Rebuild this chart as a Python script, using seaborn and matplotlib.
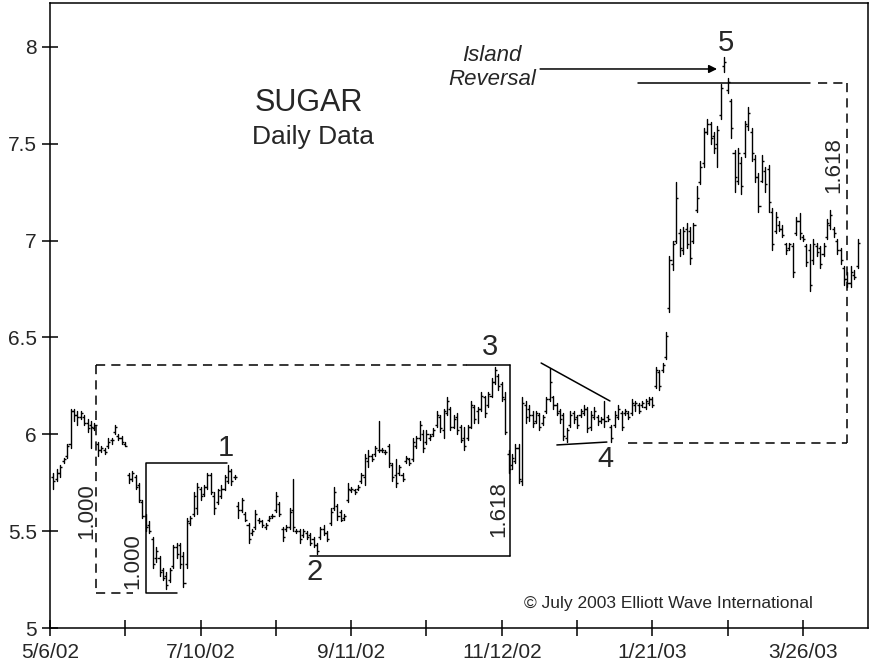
'''
Sugar daily OHLC bars with Elliott wave annotations
'''
import matplotlib
matplotlib.use('Agg')
import numpy as np
import pandas as pd
import seaborn as sns
import matplotlib.pyplot as plt

# daily bars, one entry per trading day (day 1 = first bar after 5/6/02)
high = [5.80, 5.82, 5.84, 5.88, 5.95, 6.13, 6.13, 6.12, 6.12, 6.10,
        6.08, 6.07, 6.06, 5.96, 5.94, 5.93, 5.98, 5.98, 6.05, 6.00,
        5.99, 5.96, 5.80, 5.81, 5.79, 5.75, 5.66, 5.59, 5.55, 5.47,
        5.42, 5.37, 5.31, 5.29, 5.31, 5.43, 5.44, 5.44, 5.39, 5.57,
        5.58, 5.70, 5.75, 5.73, 5.74, 5.80, 5.80, 5.70, 5.72, 5.74,
        5.79, 5.84, 5.82, 5.79, 5.65, 5.67, 5.60, 5.54, 5.51, 5.61,
        5.57, 5.56, 5.54, 5.58, 5.59, 5.70, 5.65, 5.52, 5.53, 5.62,
        5.77, 5.51, 5.51, 5.51, 5.50, 5.49, 5.47, 5.44, 5.52, 5.53,
        5.50, 5.62, 5.73, 5.64, 5.61, 5.59, 5.75, 5.73, 5.72, 5.74,
        5.80, 5.90, 5.92, 5.90, 5.94, 6.07, 5.93, 5.92, 5.95, 5.85,
        5.87, 5.84, 5.80, 5.89, 5.88, 5.98, 5.99, 6.07, 6.02, 6.02,
        6.00, 6.03, 6.12, 6.10, 6.13, 6.19, 6.14, 6.10, 6.11, 6.05,
        6.04, 6.05, 6.17, 6.15, 6.14, 6.22, 6.20, 6.22, 6.29, 6.35,
        6.31, 6.27, 6.22, 5.92, 5.90, 5.95, 5.95, 6.19, 6.17, 6.15,
        6.12, 6.12, 6.11, 6.10, 6.19, 6.34, 6.20, 6.16, 6.13, 6.11,
        6.03, 6.12, 6.12, 6.10, 6.13, 6.15, 6.14, 6.12, 6.14, 6.10,
        6.09, 6.17, 6.10, 6.05, 6.12, 6.15, 6.12, 6.13, 6.12, 6.18,
        6.17, 6.16, 6.17, 6.18, 6.19, 6.19, 6.35, 6.33, 6.37, 6.53,
        6.92, 7.00, 7.30, 7.06, 7.07, 7.09, 7.07, 7.09, 7.28, 7.41,
        7.58, 7.63, 7.61, 7.56, 7.59, 7.81, 7.95, 7.84, 7.73, 7.47,
        7.48, 7.43, 7.62, 7.69, 7.58, 7.44, 7.35, 7.44, 7.38, 7.39,
        7.17, 7.15, 7.10, 7.08, 6.99, 6.99, 6.99, 7.12, 7.14, 7.03,
        6.98, 6.98, 7.01, 6.99, 6.97, 6.99, 7.11, 7.16, 7.07, 7.01,
        6.96, 6.87, 6.84, 6.87, 6.85, 7.01]
low = [5.72, 5.76, 5.78, 5.85, 5.88, 5.93, 6.07, 6.05, 6.08, 6.05,
       6.01, 5.93, 6.02, 5.89, 5.91, 5.90, 5.93, 5.95, 6.00, 5.97,
       5.95, 5.94, 5.75, 5.76, 5.72, 5.65, 5.57, 5.50, 5.49, 5.31,
       5.34, 5.27, 5.25, 5.20, 5.24, 5.31, 5.36, 5.31, 5.21, 5.31,
       5.53, 5.58, 5.59, 5.66, 5.68, 5.72, 5.69, 5.59, 5.64, 5.67,
       5.71, 5.75, 5.74, 5.77, 5.57, 5.60, 5.55, 5.44, 5.48, 5.51,
       5.54, 5.52, 5.51, 5.55, 5.57, 5.60, 5.58, 5.45, 5.50, 5.51,
       5.50, 5.49, 5.44, 5.47, 5.46, 5.43, 5.42, 5.38, 5.46, 5.48,
       5.45, 5.53, 5.61, 5.56, 5.55, 5.56, 5.65, 5.70, 5.69, 5.71,
       5.75, 5.74, 5.83, 5.86, 5.89, 5.91, 5.91, 5.90, 5.83, 5.76,
       5.73, 5.79, 5.76, 5.85, 5.84, 5.86, 5.93, 5.97, 5.91, 5.95,
       5.97, 5.99, 6.04, 6.01, 5.98, 6.10, 6.02, 6.03, 6.00, 5.96,
       5.92, 5.97, 6.03, 6.06, 6.06, 6.12, 6.09, 6.14, 6.19, 6.26,
       6.23, 6.17, 6.00, 5.80, 5.82, 5.85, 5.75, 5.74, 6.06, 6.07,
       6.04, 6.06, 6.02, 6.05, 6.11, 6.17, 6.13, 6.10, 6.06, 5.97,
       5.96, 6.04, 6.06, 6.03, 6.09, 6.10, 6.01, 6.02, 6.08, 6.05,
       6.06, 6.04, 6.07, 5.96, 6.04, 6.08, 6.02, 6.10, 6.08, 6.10,
       6.12, 6.11, 6.14, 6.13, 6.15, 6.14, 6.24, 6.23, 6.32, 6.39,
       6.63, 6.85, 6.99, 6.92, 6.93, 6.96, 6.88, 6.99, 7.15, 7.29,
       7.38, 7.55, 7.50, 7.45, 7.38, 7.63, 7.87, 7.76, 7.53, 7.25,
       7.29, 7.24, 7.43, 7.57, 7.41, 7.30, 7.15, 7.30, 7.25, 7.15,
       6.95, 7.04, 7.05, 7.02, 6.93, 6.95, 6.81, 7.03, 7.01, 7.00,
       6.87, 6.74, 6.88, 6.92, 6.86, 6.92, 7.01, 7.06, 7.02, 6.93,
       6.88, 6.77, 6.76, 6.76, 6.80, 6.86]
opens = [5.78, 5.77, 5.80, 5.86, 5.89, 5.95, 6.12, 6.10, 6.09, 6.09,
         6.06, 6.05, 6.03, 5.95, 5.92, 5.92, 5.94, 5.97, 6.01, 5.99,
         5.98, 5.95, 5.79, 5.77, 5.78, 5.74, 5.65, 5.58, 5.53, 5.46,
         5.36, 5.36, 5.30, 5.27, 5.25, 5.32, 5.42, 5.43, 5.37, 5.33,
         5.54, 5.59, 5.62, 5.72, 5.69, 5.73, 5.79, 5.68, 5.65, 5.68,
         5.72, 5.76, 5.81, 5.78, 5.63, 5.61, 5.59, 5.53, 5.49, 5.52,
         5.56, 5.55, 5.52, 5.56, 5.58, 5.61, 5.64, 5.51, 5.51, 5.52,
         5.61, 5.50, 5.50, 5.48, 5.49, 5.48, 5.46, 5.43, 5.47, 5.51,
         5.49, 5.54, 5.62, 5.63, 5.60, 5.57, 5.66, 5.71, 5.71, 5.72,
         5.76, 5.78, 5.86, 5.89, 5.90, 5.92, 5.92, 5.91, 5.94, 5.84,
         5.79, 5.80, 5.79, 5.86, 5.87, 5.87, 5.94, 5.98, 6.00, 5.96,
         5.98, 6.00, 6.05, 6.09, 6.02, 6.11, 6.13, 6.04, 6.09, 6.04,
         5.98, 5.98, 6.04, 6.14, 6.12, 6.13, 6.19, 6.15, 6.20, 6.27,
         6.30, 6.26, 6.18, 5.90, 5.84, 5.86, 5.93, 5.76, 6.15, 6.13,
         6.10, 6.07, 6.10, 6.06, 6.12, 6.18, 6.19, 6.15, 6.12, 6.10,
         5.98, 6.05, 6.11, 6.09, 6.10, 6.11, 6.13, 6.04, 6.09, 6.09,
         6.07, 6.08, 6.09, 6.04, 6.05, 6.09, 6.11, 6.11, 6.11, 6.11,
         6.15, 6.15, 6.15, 6.14, 6.16, 6.18, 6.25, 6.32, 6.33, 6.40,
         6.65, 6.88, 7.00, 7.04, 6.95, 7.06, 7.05, 7.00, 7.16, 7.30,
         7.40, 7.56, 7.60, 7.54, 7.50, 7.65, 7.90, 7.78, 7.72, 7.45,
         7.31, 7.40, 7.45, 7.59, 7.56, 7.42, 7.33, 7.31, 7.36, 7.37,
         7.15, 7.05, 7.08, 7.06, 6.98, 6.96, 6.97, 7.04, 7.10, 7.02,
         6.97, 6.95, 6.90, 6.97, 6.96, 6.93, 7.02, 7.08, 7.06, 7.00,
         6.95, 6.86, 6.80, 6.78, 6.82, 6.87]
close = [5.76, 5.80, 5.83, 5.87, 5.94, 6.12, 6.10, 6.09, 6.11, 6.06,
         6.03, 6.04, 6.05, 5.92, 5.93, 5.91, 5.96, 5.97, 6.04, 5.98,
         5.96, 5.94, 5.77, 5.80, 5.73, 5.66, 5.58, 5.52, 5.50, 5.33,
         5.40, 5.29, 5.26, 5.22, 5.30, 5.42, 5.38, 5.33, 5.23, 5.55,
         5.57, 5.68, 5.73, 5.68, 5.73, 5.79, 5.70, 5.62, 5.71, 5.72,
         5.78, 5.81, 5.76, 5.78, 5.61, 5.66, 5.56, 5.46, 5.50, 5.59,
         5.55, 5.53, 5.53, 5.57, 5.58, 5.68, 5.59, 5.47, 5.52, 5.60,
         5.52, 5.50, 5.46, 5.50, 5.47, 5.44, 5.43, 5.40, 5.51, 5.49,
         5.46, 5.60, 5.70, 5.58, 5.56, 5.58, 5.72, 5.72, 5.70, 5.73,
         5.79, 5.88, 5.89, 5.87, 5.93, 5.92, 5.92, 5.91, 5.85, 5.78,
         5.75, 5.83, 5.77, 5.88, 5.85, 5.96, 5.98, 6.05, 5.93, 6.00,
         5.99, 6.02, 6.10, 6.03, 6.12, 6.17, 6.04, 6.08, 6.02, 5.97,
         5.94, 6.04, 6.15, 6.08, 6.13, 6.20, 6.11, 6.21, 6.27, 6.33,
         6.25, 6.19, 6.01, 5.82, 5.88, 5.93, 5.77, 6.16, 6.09, 6.10,
         6.06, 6.11, 6.04, 6.09, 6.18, 6.27, 6.15, 6.11, 6.08, 5.99,
         6.02, 6.10, 6.08, 6.05, 6.12, 6.13, 6.03, 6.10, 6.12, 6.07,
         6.08, 6.07, 6.08, 5.98, 6.10, 6.13, 6.04, 6.12, 6.09, 6.16,
         6.16, 6.12, 6.16, 6.17, 6.18, 6.15, 6.33, 6.25, 6.36, 6.51,
         6.90, 6.98, 7.22, 6.96, 7.05, 6.98, 6.91, 7.08, 7.22, 7.38,
         7.56, 7.60, 7.53, 7.48, 7.57, 7.79, 7.92, 7.82, 7.58, 7.33,
         7.45, 7.28, 7.60, 7.66, 7.45, 7.33, 7.18, 7.41, 7.29, 7.20,
         6.98, 7.12, 7.06, 7.03, 6.95, 6.98, 6.84, 7.10, 7.04, 7.01,
         6.89, 6.77, 6.98, 6.94, 6.88, 6.97, 7.09, 7.13, 7.04, 6.95,
         6.90, 6.80, 6.78, 6.84, 6.81, 6.99]
day = list(range(1, len(high) + 1))

tick_days = [0, 22, 44, 66, 88, 110, 132, 154, 176, 198, 220]
tick_labels = ['5/6/02', '', '7/10/02', '', '9/11/02', '', '11/12/02', '',
               '1/21/03', '', '3/26/03']
price_ticks = [5, 5.5, 6, 6.5, 7, 7.5, 8]
price_labels = ['5', '5.5', '6', '6.5', '7', '7.5', '8']

# wave labels: (text, day, price)
waves = [('1', 51.4, 5.93), ('2', 77.4, 5.29), ('3', 128.6, 6.45),
         ('4', 162.4, 5.87), ('5', 197.5, 8.02)]


def main():
    sns.set_style('ticks')
    plt.rcParams['font.family'] = ['Liberation Sans', 'DejaVu Sans']

    fig = plt.figure(figsize=(8.72, 6.70), dpi=100)
    ax = fig.add_axes([50 / 872, 1 - 628 / 670, 818 / 872, 625 / 670])

    # high-low bars, one vertical line per day
    bars = pd.DataFrame({'day': day + day, 'price': low + high})
    sns.lineplot(data=bars, x='day', y='price', units='day', estimator=None,
                 sort=False, color='black', linewidth=1.0, ax=ax)
    d = np.array(day)
    ax.hlines(opens, d - 0.6, d, color='black', lw=1.0)
    ax.hlines(close, d, d + 0.6, color='black', lw=1.0)

    k = dict(color='black', lw=1.1)
    kd = dict(color='black', lw=1.1, ls=(0, (6, 4)))
    # wave 1 projection box (dashed)
    ax.plot([13.4, 13.4], [6.36, 5.18], **kd)
    ax.plot([13.4, 24.3], [5.18, 5.18], **kd)
    ax.plot([13.4, 121.8], [6.36, 6.36], **kd)
    ax.plot([121.8, 134.4], [6.36, 6.36], **k)
    ax.plot([134.4, 134.4], [6.36, 5.372], **k)
    ax.plot([76.0, 134.4], [5.372, 5.372], **k)
    # wave 1 box (solid)
    ax.plot([51.7, 28.05, 28.05, 37.1], [5.852, 5.852, 5.181, 5.181], **k)
    # wave 4 triangle
    ax.plot([143.5, 163.6], [6.368, 6.172], **k)
    ax.plot([148.1, 162.7], [5.945, 5.96], **k)
    # wave 5 projection
    ax.plot([171.8, 222.0], [7.814, 7.814], **k)
    ax.plot([224.5, 232.9], [7.814, 7.814], **kd)
    ax.plot([232.9, 232.9], [7.814, 5.955], **kd)
    ax.plot([168.9, 232.9], [5.955, 5.955], **kd)

    ax.annotate('', xy=(194.9, 7.886), xytext=(143.2, 7.886),
                arrowprops=dict(arrowstyle='-|>', color='black', lw=1.1,
                                mutation_scale=12, shrinkA=0, shrinkB=0))
    ax.text(129.1, 7.894, 'Island\nReversal', ha='center', va='center',
            style='italic', fontsize=16, linespacing=1.15)

    ax.text(75.7, 7.71, 'SUGAR', ha='center', va='center', fontsize=22)
    ax.text(76.8, 7.535, 'Daily Data', ha='center', va='center', fontsize=19)

    for txt, xd, yp in waves:
        ax.text(xd, yp, txt, ha='center', va='center', fontsize=21)

    ax.text(10.8, 5.604, '1.000', rotation=90, ha='center', va='center', fontsize=16)
    ax.text(24.25, 5.346, '1.000', rotation=90, ha='center', va='center', fontsize=16)
    ax.text(131.2, 5.614, '1.618', rotation=90, ha='center', va='center', fontsize=16)
    ax.text(229.1, 7.39, '1.618', rotation=90, ha='center', va='center', fontsize=16)
    ax.text(180.6, 5.129, '\u00a9 July 2003 Elliott Wave International',
            ha='center', va='center', fontsize=12.5)

    ax.set_xlim(0, 239.0)
    ax.set_ylim(5, 5 + 625 / 193.7)
    ax.set_xticks(tick_days)
    ax.set_xticklabels(tick_labels)
    ax.set_yticks(price_ticks)
    ax.set_yticklabels(price_labels)
    ax.tick_params(direction='inout', length=11, width=1.1, labelsize=15,
                   color='black', pad=4)
    ax.tick_params(axis='x', pad=5)
    ax.set_xlabel('')
    ax.set_ylabel('')
    for s in ax.spines.values():
        s.set_visible(True)
        s.set_linewidth(1.1)
        s.set_color('black')

    fig.savefig('out.png', dpi=100)


if __name__ == "__main__":
    main()
